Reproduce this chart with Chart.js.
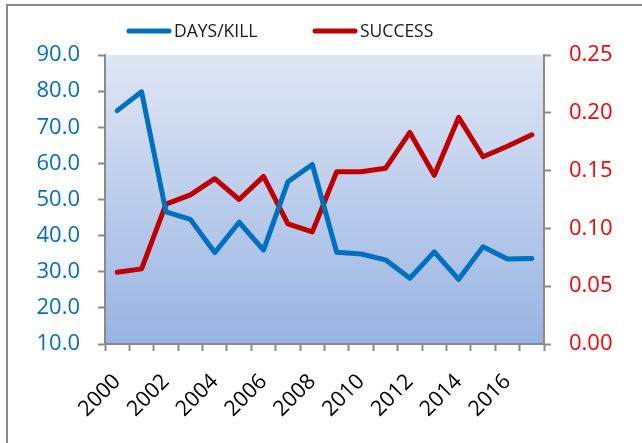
<!DOCTYPE html>
<html>
<head>
<meta charset="utf-8">
<script src="https://cdn.jsdelivr.net/npm/chart.js@4"></script>
<style>
  html, body { margin: 0; padding: 0; background: #fff; overflow: hidden; }
  canvas { display: block; }
</style>
</head>
<body>
<canvas id="chart" width="642" height="443"></canvas>
<script>
const years = ['2000', '2001', '2002', '2003', '2004', '2005', '2006', '2007', '2008',
  '2009', '2010', '2011', '2012', '2013', '2014', '2015', '2016', '2017'];
const daysPerKill = [74.6, 79.8, 46.6, 44.5, 35.3, 43.7, 36.0, 54.9, 59.7,
  35.4, 34.9, 33.3, 28.2, 35.5, 27.9, 36.9, 33.5, 33.7];
const success = [0.062, 0.065, 0.121, 0.129, 0.143, 0.125, 0.145, 0.104, 0.097,
  0.149, 0.149, 0.152, 0.183, 0.146, 0.196, 0.162, 0.171, 0.181];

const BLUE = '#0070C0';
const RED = '#C00000';
const AXIS = '#8a8a8a';
const FONT = "'Open Sans', 'Noto Sans', sans-serif";

// fond dégradé de la zone de tracé + cadre du graphique
const backdrop = {
  id: 'backdrop',
  beforeDraw(chart) {
    const { ctx, chartArea: a } = chart;
    ctx.save();
    const g = ctx.createLinearGradient(0, a.top, 0, a.bottom);
    g.addColorStop(0, '#dfe6f4');
    g.addColorStop(1, '#98b4e2');
    ctx.fillStyle = g;
    ctx.fillRect(a.left, a.top, a.right - a.left, a.bottom - a.top);
    ctx.strokeStyle = AXIS;
    ctx.lineWidth = 2;
    ctx.beginPath();
    ctx.moveTo(7, chart.height);
    ctx.lineTo(7, 5);
    ctx.lineTo(chart.width, 5);
    ctx.stroke();
    ctx.restore();
  },
};

// légende façon Excel (trait arrondi + libellé)
const lineLegend = {
  id: 'lineLegend',
  afterDraw(chart) {
    const { ctx } = chart;
    const starts = [127, 313];
    ctx.save();
    ctx.font = `17.5px ${FONT}`;
    ctx.textBaseline = 'middle';
    chart.data.datasets.forEach((ds, i) => {
      const x = starts[i], y = 31;
      ctx.strokeStyle = ds.borderColor;
      ctx.lineWidth = 5;
      ctx.lineCap = 'round';
      ctx.beginPath(); ctx.moveTo(x + 2, y); ctx.lineTo(x + 42, y); ctx.stroke();
      ctx.fillStyle = '#1a1a1a';
      ctx.fillText(ds.label, x + 47, y + 1);
    });
    ctx.restore();
  },
};

new Chart(document.getElementById('chart'), {
  type: 'line',
  data: {
    labels: years,
    datasets: [
      { label: 'DAYS/KILL', data: daysPerKill, yAxisID: 'y', borderColor: BLUE, backgroundColor: BLUE,
        borderWidth: 5, pointRadius: 0, borderCapStyle: 'round', borderJoinStyle: 'round', tension: 0 },
      { label: 'SUCCESS', data: success, yAxisID: 'y1', borderColor: RED, backgroundColor: RED,
        borderWidth: 5, pointRadius: 0, borderCapStyle: 'round', borderJoinStyle: 'round', tension: 0 },
    ],
  },
  options: {
    responsive: false,
    animation: false,
    devicePixelRatio: 1,
    layout: { padding: { top: 55, left: 0, right: 0, bottom: 0 } },
    plugins: { legend: { display: false }, tooltip: { enabled: false } },
    scales: {
      x: {
        offset: true,
        grid: { offset: true, drawOnChartArea: false, tickLength: 7, tickColor: AXIS, tickWidth: 2 },
        border: { color: AXIS, width: 2 },
        ticks: {
          autoSkip: false, minRotation: 45, maxRotation: 45, padding: 18,
          color: '#000', font: { family: FONT, size: 21.5 },
          callback: (v, i) => (i % 2 === 0 ? years[i] : ''),
        },
        afterFit: (s) => { s.height = 99; },
      },
      y: {
        position: 'left', min: 10, max: 90,
        grid: { drawOnChartArea: false, tickLength: 7, tickColor: AXIS, tickWidth: 2 },
        border: { color: AXIS, width: 2 },
        ticks: { stepSize: 10, padding: 18, color: BLUE, font: { family: FONT, size: 22 },
          callback: (v) => v.toFixed(1) },
        afterFit: (s) => { s.width = 105; },
      },
      y1: {
        position: 'right', min: 0, max: 0.25,
        grid: { drawOnChartArea: false, tickLength: 7, tickColor: AXIS, tickWidth: 2 },
        border: { color: AXIS, width: 2 },
        ticks: { stepSize: 0.05, padding: 18, color: '#ff0000', font: { family: FONT, size: 22 },
          callback: (v) => v.toFixed(2) },
        afterFit: (s) => { s.width = 98; },
      },
    },
  },
  plugins: [backdrop, lineLegend],
});
</script>
</body>
</html>
